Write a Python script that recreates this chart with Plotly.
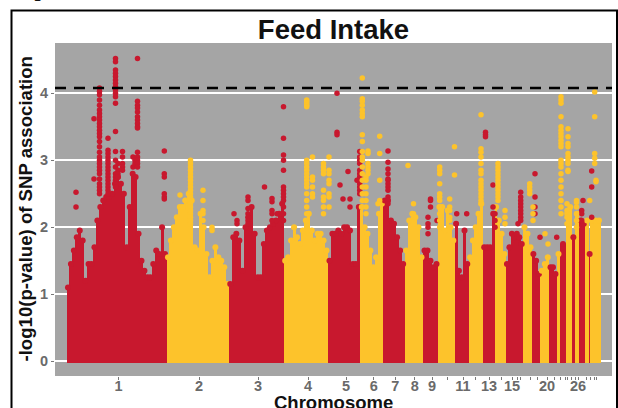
import plotly.graph_objects as go

RED = "#C8182E"
YELLOW = "#FDC32B"
PANEL = "#A5A5A5"

# chromosome block edges along the genome axis
chrom_edges = [66.5, 166.5, 228.7, 283.7, 328, 360.3, 383.3, 404.7, 423, 438, 454.7, 468.7, 482.7,
               494.7, 505.7, 523, 532, 540.3, 549.3, 556.7, 560.3, 565.7, 571.7, 575, 579.3, 585.3, 589, 590.3, 600.7]

# solid top of each chromosome's dense mass of SNPs, left to right
chrom_tops = [
    [1.1,1.45,1.65,1.85,1.95,1.8,1.2,1.45,1.45,1.7,2.1,2.3,2.4,2.45,2.45,2.5,2.65,2.75,2.65,2.5,1.7,2.3,2.8,2.75,1.9,1.5,1.35,1.25,1.25,1.45,1.65,1.6,2.0,1.6],
    [1.55,1.8,2.0,2.15,2.3,2.3,2.4,2.5,2.4,1.7,1.65,2.2,2.0,1.6,1.25,1.5,1.7,1.55,1.5,1.4,1.15],
    [1.15,1.85,1.9,1.8,1.35,2.0,2.15,2.3,1.9,1.25,1.25,1.75,1.95,2.0,2.05,2.1,2.2,2.35],
    [1.5,1.55,1.8,2.0,1.85,1.75,1.95,2.1,2.2,1.95,1.8,1.9,1.9,1.8,1.65],
    [1.5,1.9,1.9,1.95,1.9,2.0,2.0,1.95,1.45,1.45,2.3],
    [2.3,2.0,1.9,1.65,1.4,1.55,2.2,2.35],
    [2.4,2.4,2.1,2.05,1.85,1.65,1.45],
    [1.65,2.1,2.2,2.15,2.0,1.55],
    [1.65,1.65,1.5,1.4,1.45],
    [2.3,2.3,1.95,2.25,2.0,1.8],
    [2.05,1.35,1.25,1.95,1.45],
    [1.55,1.8,2.0,2.2,2.35],
    [1.7,1.7,1.7,2.2],
    [2.3,2.1,1.9,1.6],
    [1.45,1.7,1.9,1.85,1.9,1.85,1.75],
    [2.0,1.9,1.7],
    [1.6,1.5,1.3],
    [1.35,1.45,1.55],
    [1.4,1.4,1.3],
    [1.6],
    [1.75],
    [2.2,2.3],
    [1.85],
    [2.2],
    [2.1,2.05],
    [2.1],
    [1.6],
    [2.1,2.1,2.1],
]

# isolated SNPs above the mass: (position, values)
red_snps = [
    (76,[2.52,2.3]), (94,[3.62,2.72]),
    (99.5,[4.08,4.03,3.98,3.9,3.82,3.75,3.7,3.65,3.6,3.55,3.5,3.45,3.4,3.35,3.28,3.2,3.12,3.05,3.0,2.95,2.9,2.85,2.8,2.72,2.65,2.6,2.55,2.5]),
    (108,[3.33,3.15,3.1,3.05,3.0,2.95,2.9,2.85,2.8,2.75,2.7,2.65,2.6,2.55,2.5]),
    (115.5,[4.52,4.47,4.35,4.3,4.25,4.2,4.15,4.1,4.05,4.0,3.95,3.85,3.43,3.13,3.0,2.9,2.8,2.75,2.7,2.65,2.6]),
    (118,[2.95,2.85,2.8,2.75]), (122.5,[3.13,3.05,2.95,2.9,2.85]),
    (133,[3.05,2.9]), (135,[3.0,2.95]),
    (137.5,[4.52,3.88,3.82,3.78,3.72,3.65,3.6,3.55,3.5,3.48,3.12,3.05,3.0,2.95,2.9]),
    (164.3,[3.14,2.8,2.75,2.5,2.45,2.42]),
    (234,[2.2]), (237,[2.1,2.05]), (248,[2.45,2.4,2.28,2.2,2.15,2.1,2.05]),
    (264.5,[2.6]), (272,[2.43,2.38,2.25,2.2,2.1]), (277,[2.2]),
    (283.5,[3.8,3.33,3.08,3.0,2.85,2.6,2.55,2.5,2.45,2.4,2.3,2.2,2.1]),
    (337,[4.0,3.42,3.38]), (340,[2.63]), (343,[2.42]), (348,[2.83]), (350,[2.42,2.3]),
    (357,[2.7]), (359.7,[3.13,3.05,3.0,2.95,2.85,2.8,2.75,2.7,2.65,2.6,2.55,2.5]),
    (388,[3.14,2.97,2.87,2.8,2.72,2.7,2.65,2.6,2.55,2.45,2.4,2.35]),
    (428,[2.15,2.05,2.0,1.9]), (430.5,[2.42,2.4,2.3]), (437,[2.1]), (456.7,[2.2]), (466.7,[2.2]),
    (485.5,[3.42,3.38,3.35]), (493,[2.63,2.3]), (495,[2.2,2.1,2.0]),
    (518,[2.05]), (520.7,[2.52,2.45,2.4,2.35,2.3,2.25,2.2,2.15,2.1]),
    (535,[2.8,2.45,2.3,2.2]), (540,[1.85]), (556.7,[1.85]),
    (581.7,[2.25,2.2,2.1]), (583,[2.4]), (591.7,[2.84,2.6,2.15]),
]
yellow_snps = [
    (180,[2.48]), (185,[2.4]),
    (190.5,[3.0,2.95,2.9,2.85,2.8,2.75,2.7,2.65,2.6,2.55,2.5,2.45,2.4,2.35,2.3,2.25,2.2,2.15,2.1,2.05]),
    (203,[2.55,2.4,2.25,2.2,2.1]), (212,[2.0,1.95]),
    (306.7,[3.9,3.88,3.85,3.82,3.8,3.0,2.95,2.9,2.85,2.8,2.75,2.7,2.65,2.6,2.5,2.4,2.3,2.2]),
    (312.5,[3.05,2.75,2.7,2.6,2.5,2.45]), (323.5,[2.95,2.9,2.85,2.8,2.55,2.45,2.4,2.3,2.2]),
    (329,[3.05,2.85,2.8,2.7,2.65,2.5,2.45,2.3]),
    (362.3,[4.23,3.92,3.88,3.82,3.75,3.7,3.65,3.38,3.28,3.13,3.05,3.0,2.9,2.8,2.7,2.6,2.5,2.4]),
    (366,[2.75,2.7,2.6,2.5,2.4,2.3,2.2]), (368,[3.14,3.1,2.95,2.9,2.85,2.8]),
    (378,[2.35]), (379.7,[3.36,3.1,2.7,2.4]),
    (408,[2.92]), (413.5,[2.35,2.2,2.15,2.1,2.05]),
    (439.7,[2.9,2.85,2.8,2.65,2.5,2.45,2.4,2.3,2.2,2.1,2.0]), (449.7,[2.42,2.3,2.25,2.15,2.1]), (454.5,[3.2,2.78]),
    (481,[3.68,3.17,3.12,3.05,2.95,2.85,2.8,2.7,2.65,2.6,2.55,2.5,2.45,2.4,2.35]),
    (498,[2.95,2.9,2.85,2.8,2.75,2.7,2.65,2.6,2.55,2.5,2.45,2.4]),
    (505,[2.25,2.15,2.05]), (529.7,[2.65,2.6,2.55,2.5]), (533,[2.3,2.2,2.1]),
    (545,[1.9]), (548,[1.75]),
    (561,[3.95,3.9,3.85,3.65,3.5,3.45,3.4,3.35,3.3,3.25,3.2,3.0,2.95,2.9,2.8,2.7,2.6,2.5,2.4,2.3,2.2]),
    (567,[2.35,2.25,2.15,2.05]),
    (568,[3.47,3.35,3.25,3.2,3.1,3.05,3.0,2.95,2.85,2.83]),
    (576.5,[2.4,2.37,2.3,2.2,2.1,2.0]), (589.7,[2.4]),
    (594.7,[4.02,3.65,3.1,3.03,2.95]), (596,[2.7,2.68]),
]

tick_pos = [118.5,199,258,308,346,373.7,395.3,414.7,432,447.5,463,475,489,501.7,512,517,520.7,530,537,547,554,560,565,567.5,571.7,575,578,586.7,590.7,594,596]
tick_text = ["1","2","3","4","5","6","7","8","9","","11","","13","","15","","","","","20","","","","","","","26","","","",""]
threshold = 4.08

fig = go.Figure()
for i, tops in enumerate(chrom_tops):
    color = RED if i % 2 == 0 else YELLOW
    start, end = chrom_edges[i], chrom_edges[i + 1]
    w = (end - start) / len(tops)
    xs = [start + w * (k + 0.5) for k in range(len(tops))]
    fig.add_trace(go.Bar(x=xs, y=[t + 0.03 for t in tops], base=-0.03, width=w,
                         marker=dict(color=color, line=dict(width=0)), showlegend=False))
    fig.add_trace(go.Scatter(x=xs, y=tops, mode="markers",
                             marker=dict(color=color, size=6, line=dict(width=0)), showlegend=False))

for snps, color in ((red_snps, RED), (yellow_snps, YELLOW)):
    xs = [p for p, vals in snps for _ in vals]
    ys = [v for _, vals in snps for v in vals]
    fig.add_trace(go.Scatter(x=xs, y=ys, mode="markers",
                             marker=dict(color=color, size=5.5, line=dict(width=0)), showlegend=False))

fig.add_trace(go.Scatter(x=[55, 612], y=[threshold, threshold], mode="lines",
                         line=dict(color="black", width=2.4, dash="11px,8px"), showlegend=False))

FONT = "Liberation Sans"
TICK_FONT = dict(family=FONT, size=14.5, color="#6a6a6a", weight=700)
fig.update_layout(
    width=618, height=408, autosize=False,
    margin=dict(l=55, r=6, t=43, b=32),
    paper_bgcolor="white", plot_bgcolor=PANEL,
    bargap=0, barmode="overlay",
    title=dict(text="Feed Intake", x=0.5, xref="paper", xanchor="center", y=1 - 29 / 408, yanchor="middle",
               font=dict(family=FONT, size=27.5, color="#111111", weight=700)),
    xaxis=dict(range=[55, 612], tickmode="array", tickvals=tick_pos, ticktext=tick_text, showgrid=False,
               zeroline=False, ticks="outside", ticklen=3, tickwidth=1, tickcolor="#777777",
               ticklabelstandoff=-6, tickfont=TICK_FONT),
    yaxis=dict(range=[-0.224, 4.752], tickmode="array", tickvals=[0, 1, 2, 3, 4], showgrid=True,
               gridcolor="white", gridwidth=1.5, zeroline=False, ticks="outside", ticklen=3, tickwidth=1,
               tickcolor="#777777", tickfont=TICK_FONT),
    annotations=[
        dict(text="Chromosome", xref="paper", yref="paper", x=0.5, y=(376 - 402) / 333, yanchor="middle",
             xanchor="center", showarrow=False, font=dict(family=FONT, size=18.5, color="#111111", weight=700)),
        dict(text="-log10(p-value) of SNP association", xref="paper", yref="paper", x=(25 - 55) / 557,
             y=(376 - 209.5) / 333, textangle=-90, xanchor="center", yanchor="middle", showarrow=False,
             font=dict(family=FONT, size=18.6, color="#111111", weight=700)),
        dict(text="o possible.", xref="paper", yref="paper", x=(16 - 55) / 557, y=(376 - 3.5) / 333, xanchor="left",
             yanchor="bottom", showarrow=False,
             font=dict(family="Liberation Serif", size=22, color="#111111", weight=700)),
    ],
    shapes=[dict(type="rect", xref="paper", yref="paper", x0=(11.5 - 55) / 557, x1=(617 - 55) / 557,
                 y0=-0.3, y1=(376 - 10.5) / 333, line=dict(color="black", width=2), fillcolor="rgba(0,0,0,0)", layer="above")],
)
fig.write_html("out.html", config={"displayModeBar": False},
               post_script="document.body.style.margin='0';document.body.style.overflow='hidden';")
